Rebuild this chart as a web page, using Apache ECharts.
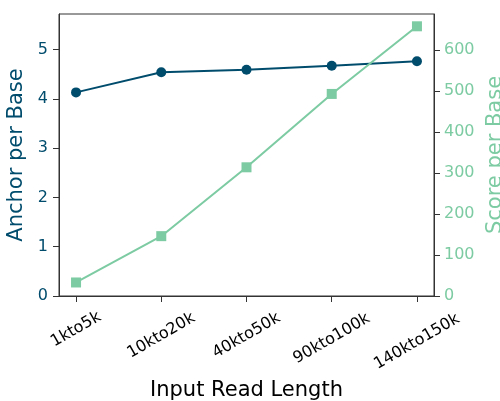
<!DOCTYPE html>
<html><head><meta charset="utf-8">
<script src="https://cdn.jsdelivr.net/npm/echarts@6/dist/echarts.min.js"></script>
<style>html,body{margin:0;padding:0;background:#fff}#c{width:500px;height:401px}</style>
</head><body><div id="c"></div>
<script>
const categories = ["1kto5k", "10kto20k", "40kto50k", "90kto100k", "140kto150k"];
const anchorPerBase = [4.13, 4.54, 4.59, 4.67, 4.76];
const scorePerBase = [33, 146, 314, 493, 658];
const leftTicks = [0, 1, 2, 3, 4, 5];
const rightTicks = [0, 100, 200, 300, 400, 500, 600];

const FONT = "DejaVu Sans";
const BLUE = "#004c6d";
const GREEN = "#7ccba2";
const AX = "#333333";

const cv = document.createElement("canvas").getContext("2d");
cv.font = "16px " + FONT;
const idx = categories.map((_, i) => i);

const baseX = {
  type: "value", min: -0.2, max: 4.2, gridIndex: 0, position: "bottom",
  splitLine: { show: false }
};
const xAxes = [Object.assign({}, baseX, {
  name: "Input Read Length", nameLocation: "middle", nameGap: 84,
  nameTextStyle: { fontFamily: FONT, fontSize: 21, color: "#000" },
  axisLine: { show: true, onZero: false, lineStyle: { color: AX, width: 1 } },
  axisTick: { show: true, customValues: idx, length: 6, inside: false, lineStyle: { color: AX } },
  axisLabel: { show: false }
})];
categories.forEach((c, i) => {
  const w = cv.measureText(c).width;
  xAxes.push(Object.assign({}, baseX, {
    axisLine: { show: false, onZero: false }, axisTick: { show: false },
    axisLabel: {
      show: true, customValues: [i], rotate: 30, align: "center", verticalAlign: "middle",
      margin: 33.5 + 0.3 * (w - 55),
      fontFamily: FONT, fontSize: 16, color: "#000",
      formatter: v => categories[Math.round(v)]
    }
  }));
});

const chart = echarts.init(document.getElementById("c"), null, { renderer: "canvas" });
chart.setOption({
  animation: false,
  backgroundColor: "#fff",
  grid: { left: 59, right: 66, top: 14, bottom: 105, outerBoundsMode: "none", containLabel: false, show: true, borderColor: AX, borderWidth: 1, backgroundColor: "transparent" },
  xAxis: xAxes,
  yAxis: [
    {
      type: "value", min: 0, max: 5.72, position: "left",
      name: "Anchor per Base", nameLocation: "middle", nameGap: 28,
      nameTextStyle: { fontFamily: FONT, fontSize: 21, color: BLUE },
      axisLine: { show: true, onZero: false, lineStyle: { color: AX } },
      axisTick: { show: true, customValues: leftTicks, length: 6, lineStyle: { color: AX } },
      axisLabel: { customValues: leftTicks, margin: 11, fontFamily: FONT, fontSize: 16, color: BLUE },
      splitLine: { show: false }
    },
    {
      type: "value", min: 0, max: 688, position: "right",
      name: "Score per Base", nameLocation: "middle", nameGap: 42, nameRotate: 90,
      nameTextStyle: { fontFamily: FONT, fontSize: 21, color: GREEN },
      axisLine: { show: true, onZero: false, lineStyle: { color: AX } },
      axisTick: { show: true, customValues: rightTicks, length: 6, lineStyle: { color: AX } },
      axisLabel: { customValues: rightTicks, margin: 10, fontFamily: FONT, fontSize: 16, color: GREEN },
      splitLine: { show: false }
    }
  ],
  series: [
    {
      type: "line", name: "Anchor per Base", xAxisIndex: 0, yAxisIndex: 0,
      data: anchorPerBase.map((v, i) => [i, v]),
      symbol: "circle", symbolSize: 10,
      lineStyle: { color: BLUE, width: 2 }, itemStyle: { color: BLUE }
    },
    {
      type: "line", name: "Score per Base", xAxisIndex: 0, yAxisIndex: 1,
      data: scorePerBase.map((v, i) => [i, v]),
      symbol: "rect", symbolSize: 10,
      lineStyle: { color: GREEN, width: 2 }, itemStyle: { color: GREEN }
    }
  ]
});
</script></body></html>
